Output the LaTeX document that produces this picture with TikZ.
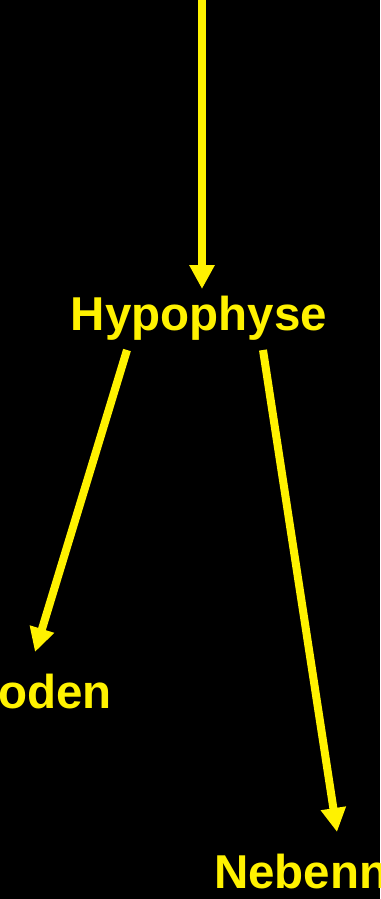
\documentclass[tikz,border=0pt]{standalone}
\usepackage{fontspec}
\setmainfont{Liberation Sans}
\usetikzlibrary{arrows.meta}
\begin{document}
\begin{tikzpicture}[x=1pt,y=-1pt,
  lbl/.style={text=yellow,font=\fontsize{47.5}{52}\selectfont\bfseries,inner sep=0pt,outer sep=0pt},
  conn/.style={draw=yellow,line width=8pt,-{Triangle[length=24pt,width=24pt]}}]
\useasboundingbox (0,0) rectangle (380,899);
\fill[black] (0,0) rectangle (380,899);
\clip (0,0) rectangle (380,899);
\node[lbl,anchor=base] (hyp) at (199,330) {Hypophyse};
\node[lbl,anchor=base east] (hoden) at (112,708) {Hoden};
\node[lbl,anchor=base west] (neben) at (214,888) {Nebenniere};
\coordinate (top) at (202,-5);
\coordinate (t1) at (202,289);
\coordinate (l0) at (127,350);
\coordinate (l1) at (35,652);
\coordinate (r0) at (263,350);
\coordinate (r1) at (337,832);
\draw[conn] (top) -- (t1);
\draw[conn] (l0) -- (l1);
\draw[conn] (r0) -- (r1);
\end{tikzpicture}
\end{document}
